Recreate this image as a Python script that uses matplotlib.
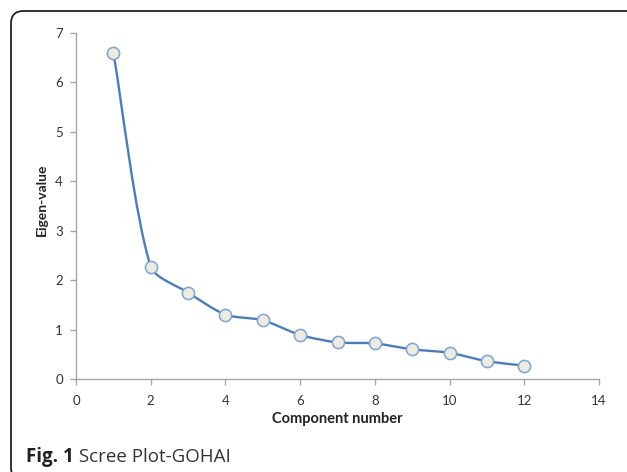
import matplotlib
matplotlib.use("Agg")
import matplotlib.pyplot as plt
from matplotlib.path import Path
from matplotlib.patches import PathPatch, FancyBboxPatch
import numpy as np

components = [1, 2, 3, 4, 5, 6, 7, 8, 9, 10, 11, 12]
eigenvalues = [6.60, 2.27, 1.75, 1.30, 1.19, 0.89, 0.74, 0.72, 0.60, 0.53, 0.36, 0.27]
x_ticks = [0, 2, 4, 6, 8, 10, 12, 14]
y_ticks = [0, 1, 2, 3, 4, 5, 6, 7]
x_label = "Component number"
y_label = "Eigen-value"
caption_bold = "Fig. 1"
caption_text = " Scree Plot-GOHAI"

W, H = 627, 472
fig = plt.figure(figsize=(W / 100, H / 100), dpi=100)

# rounded frame around the figure
frame = FancyBboxPatch((11 / W, -8 / H), (W + 20) / W, (H - 11 + 8) / H,
                       boxstyle="round,pad=0,rounding_size=0.02",
                       transform=fig.transFigure, fill=False,
                       edgecolor="#222222", linewidth=1.3, mutation_aspect=W / H)
fig.patches.append(frame)

ax = fig.add_axes([76 / W, (H - 379) / H, (599 - 76) / W, (379 - 33) / H])
ax.set_xlim(0, 14)
ax.set_ylim(0, 7)

# smoothed line: Bezier segments with tangents computed in screen space
xs = np.array(components, dtype=float)
ys = np.array(eigenvalues, dtype=float)
pts = ax.transData.transform(np.column_stack([xs, ys]))
n = len(pts)
tang = []
for i in range(n):
    a = pts[i - 1] if i > 0 else pts[i]
    b = pts[i + 1] if i < n - 1 else pts[i]
    d = b - a
    tang.append(d / np.hypot(*d))
tension = 0.75
verts = [pts[0]]
codes = [Path.MOVETO]
for i in range(n - 1):
    p1, p2 = pts[i], pts[i + 1]
    L = np.hypot(*(p2 - p1))
    c1 = p1 + tang[i] * L / 3.0 * tension
    c2 = p2 - tang[i + 1] * L / 3.0 * tension
    verts += [c1, c2, p2]
    codes += [Path.CURVE4] * 3
verts = ax.transData.inverted().transform(np.array(verts))
ax.add_patch(PathPatch(Path(verts, codes), facecolor="none",
                       edgecolor="#4A7EBB", linewidth=1.7, zorder=2))
ax.plot(xs, ys, linestyle="none", marker="o", markersize=8.8,
        markerfacecolor="#EBEBE0", markeredgecolor="#7FA3D3",
        markeredgewidth=1.1, zorder=3)

ax.set_xticks(x_ticks)
ax.set_yticks(y_ticks)
for s in ["top", "right"]:
    ax.spines[s].set_visible(False)
for s in ["left", "bottom"]:
    ax.spines[s].set_color("#A6A6A6")
    ax.spines[s].set_linewidth(1.0)
ax.tick_params(direction="out", length=4.5, width=1.0, color="#A6A6A6",
               labelsize=9.5, labelcolor="#333333")
ax.tick_params(axis="x", pad=7)
ax.tick_params(axis="y", pad=5)
for lab in ax.get_xticklabels() + ax.get_yticklabels():
    lab.set_fontfamily("Lato")

ax.set_xlabel(x_label, fontfamily="Lato", fontweight="bold", fontsize=10.5,
              color="#222222")
ax.set_ylabel(y_label, fontfamily="Lato", fontweight="bold", fontsize=10,
              color="#222222")
ax.xaxis.set_label_coords(0.5, -0.095)
ax.yaxis.set_label_coords(-0.054, 0.517)

t1 = fig.text(26 / W, (H - 462) / H, caption_bold, fontfamily="Open Sans",
              fontweight="bold", fontsize=13.5, color="#222222", va="baseline")
fig.canvas.draw()
bb = t1.get_window_extent()
fig.text(bb.x1 / W, (H - 462) / H, caption_text, fontfamily="Open Sans",
         fontsize=13.5, color="#333333", va="baseline")

fig.savefig("out.png", dpi=100)
